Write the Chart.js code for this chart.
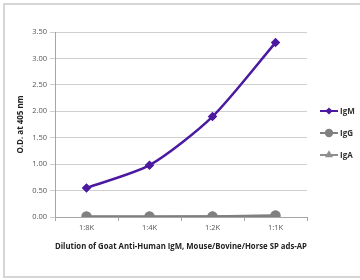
<!DOCTYPE html>
<html>
<head>
<meta charset="utf-8">
<script src="https://cdn.jsdelivr.net/npm/chart.js@4.4.1/dist/chart.umd.min.js"></script>
<style>
  html,body{margin:0;padding:0;background:#fff;}
  #wrap{width:360px;height:280px;position:relative;}
</style>
</head>
<body>
<div id="wrap"><canvas id="c" width="360" height="280"></canvas></div>
<script>
const dilutions = ['1:8K','1:4K','1:2K','1:1K'];
const igm = [0.55, 0.98, 1.90, 3.30];
const igg = [0.01, 0.01, 0.01, 0.03];
const iga = [0.00, 0.00, 0.01, 0.02];
const yTicks = [0, 0.5, 1, 1.5, 2, 2.5, 3, 3.5];

const FONT = "'Open Sans', 'Liberation Sans', sans-serif";

// frame + legend drawn by hand (line with marker in the middle, like the source)
const framePlugin = {
  id:'frame',
  beforeDraw(chart){
    const ctx = chart.ctx;
    ctx.save();
    ctx.strokeStyle = '#d6d6d6';
    ctx.lineWidth = 2;
    ctx.strokeRect(4, 4, 362, 273);
    ctx.restore();
  },
  afterDraw(chart){
    const ctx = chart.ctx;
    const rows = [111, 133, 155];
    ctx.save();
    chart.data.datasets.forEach((ds,i)=>{
      const y = rows[i];
      ctx.strokeStyle = ds.borderColor;
      ctx.lineWidth = 2;
      ctx.beginPath(); ctx.moveTo(320, y); ctx.lineTo(338, y); ctx.stroke();
      Chart.helpers.drawPoint(ctx, {pointStyle: ds.pointStyle, radius: ds.pointRadius - 0.8, borderWidth:1}, 329, y);
      ctx.fillStyle = ds.pointBackgroundColor;
      ctx.strokeStyle = ds.pointBorderColor;
      ctx.fill();
      ctx.fillStyle = '#333';
      ctx.font = 'bold 8px ' + FONT;
      ctx.textBaseline = 'middle';
      ctx.fillText(ds.label, 340, y + 0.5);
    });
    ctx.restore();
  }
};

function series(label, data, color, style, r){
  return {label, data, borderColor: color, backgroundColor: color,
    pointBackgroundColor: color, pointBorderColor: color,
    pointStyle: style, pointRadius: r, pointHoverRadius: r,
    borderWidth: 2.5, tension: 0.25, fill:false};
}

new Chart(document.getElementById('c'), {
  type:'line',
  data:{
    labels: dilutions,
    datasets:[
      series('IgM', igm, '#4b1aa0', 'rectRot', 3),
      series('IgG', igg, '#808080', 'circle', 4),
      series('IgA', iga, '#8f8f8f', 'triangle', 3.5)
    ]
  },
  options:{
    responsive:false,
    animation:false,
    layout:{padding:{top:32, right:53, left:0, bottom:0}},
    plugins:{legend:{display:false}, tooltip:{enabled:false}},
    scales:{
      x:{
        offset:true,
        grid:{offset:true, drawOnChartArea:false, drawTicks:true, tickLength:4, color:'#a6a6a6'},
        border:{color:'#a6a6a6', width:1},
        ticks:{color:'#555', font:{family:FONT, size:7.5}, padding:2},
        title:{display:true, text:'Dilution of Goat Anti-Human IgM, Mouse/Bovine/Horse SP ads-AP',
          color:'#222', font:{family:FONT, size:8.5, weight:'bold'}, padding:{top:4, bottom:28}},
        afterFit(s){ s.height = 63; }
      },
      y:{
        min:0, max:3.5,
        afterBuildTicks(s){ s.ticks = yTicks.map(v=>({value:v})); },
        grid:{color:'#cfcfcf', tickLength:5, lineWidth:1},
        border:{color:'#a6a6a6', width:1},
        ticks:{color:'#555', font:{family:FONT, size:7.5}, padding:3,
          callback:v=>Number(v).toFixed(2)},
        title:{display:true, text:'O.D. at 405 nm', color:'#222',
          font:{family:FONT, size:8, weight:'bold'}, padding:{top:16, bottom:16}},
        afterFit(s){ s.width = 55; }
      }
    }
  },
  plugins:[framePlugin]
});
</script>
</body>
</html>
